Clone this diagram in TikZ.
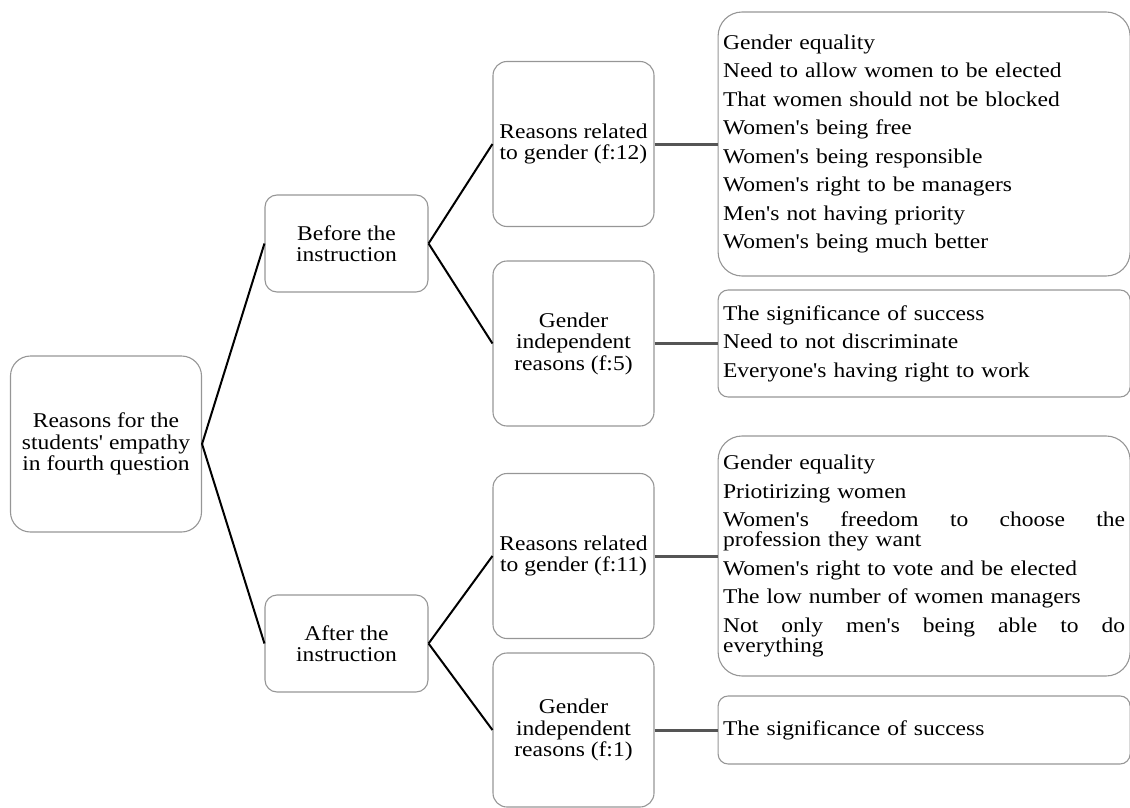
\documentclass[tikz,border=0pt]{standalone}
\usepackage{fontspec}
\setmainfont[FakeStretch=1.12,Ligatures=TeXOff]{Liberation Serif}
\usetikzlibrary{positioning}
\definecolor{boxgray}{RGB}{150,150,150}
\definecolor{linkgray}{RGB}{85,85,85}
\newcommand{\spreadline}[1]{\makebox[402pt][l]{#1}}
\DeclareRobustCommand{\listfont}{\fontsize{21}{18}\selectfont\lineskiplimit=-50pt\relax}

\begin{document}
\begin{tikzpicture}[x=1pt, y=-1pt,
    every node/.style={font=\fontsize{21}{21.5}\selectfont, align=center, inner sep=0pt},
    rootbox/.style={draw=boxgray, line width=1.1pt, rounded corners=20pt, minimum width=191pt, minimum height=176pt},
    timebox/.style={draw=boxgray, line width=1.1pt, rounded corners=12pt, minimum width=163pt, minimum height=97pt},
    catbox/.style={draw=boxgray, line width=1.1pt, rounded corners=14pt, minimum width=161pt, minimum height=165pt},
    listbox/.style={draw=boxgray, line width=1.1pt, rounded corners=24pt, minimum width=411pt, inner xsep=5pt,
        text width=402pt, align=left, font=\listfont},
    shortlist/.style={listbox, rounded corners=10pt},
    diag/.style={black, line width=2pt},
    flat/.style={linkgray, line width=3pt}]
    \useasboundingbox (0,0) rectangle (1130,808);

    \node[rootbox] (root) at (106,444) {Reasons for the\\students' empathy\\in fourth question};
    \node[timebox] (before) at (346.5,243.5) {Before the\\instruction};
    \node[timebox] (after) at (346.5,643.5) {After the\\instruction};

    \node[catbox] (relbefore) at (573.5,144) {Reasons related\\to gender (f:12)};
    \node[catbox] (indbefore) at (573.5,343.5) {Gender\\independent\\reasons (f:5)};
    \node[catbox] (relafter) at (573.5,556) {Reasons related\\to gender (f:11)};
    \node[catbox, minimum height=154pt] (indafter) at (573.5,730) {Gender\\independent\\reasons (f:1)};

    \node[listbox, minimum height=264pt, right=63pt of relbefore] (listrelbefore) {Gender equality\\[10.5pt]
        Need to allow women to be elected\\[10.5pt]
        That women should not be blocked\\[10.5pt]
        Women's being free\\[10.5pt]
        Women's being responsible\\[10.5pt]
        Women's right to be managers\\[10.5pt]
        Men's not having priority\\[10.5pt]
        Women's being much better};
    \node[shortlist, minimum height=107pt, right=63pt of indbefore] (listindbefore) {The significance of success\\[10.5pt]
        Need to not discriminate\\[10.5pt]
        Everyone's having right to work};
    \node[listbox, minimum height=240pt, right=63pt of relafter] (listrelafter) {Gender equality\\[10.5pt]
        Priotirizing women\\[10.5pt]
        \spreadline{Women's\hfill freedom\hfill to\hfill choose\hfill the}\\[2pt]
        profession they want\\[10.5pt]
        Women's right to vote and be elected\\[10.5pt]
        The low number of women managers\\[10.5pt]
        \spreadline{Not\hfill only\hfill men's\hfill being\hfill able\hfill to\hfill do}\\[2pt]
        everything};
    \node[shortlist, minimum height=68pt, right=63pt of indafter] (listindafter) {The significance of success};

    \draw[diag] (root.east) -- (before.west);
    \draw[diag] (root.east) -- (after.west);
    \draw[diag] (before.east) -- (relbefore.west);
    \draw[diag] (before.east) -- (indbefore.west);
    \draw[diag] (after.east) -- (relafter.west);
    \draw[diag] (after.east) -- (indafter.west);

    \draw[flat] (relbefore) -- (listrelbefore);
    \draw[flat] (indbefore) -- (listindbefore);
    \draw[flat] (relafter) -- (listrelafter);
    \draw[flat] (indafter) -- (listindafter);
\end{tikzpicture}
\end{document}
